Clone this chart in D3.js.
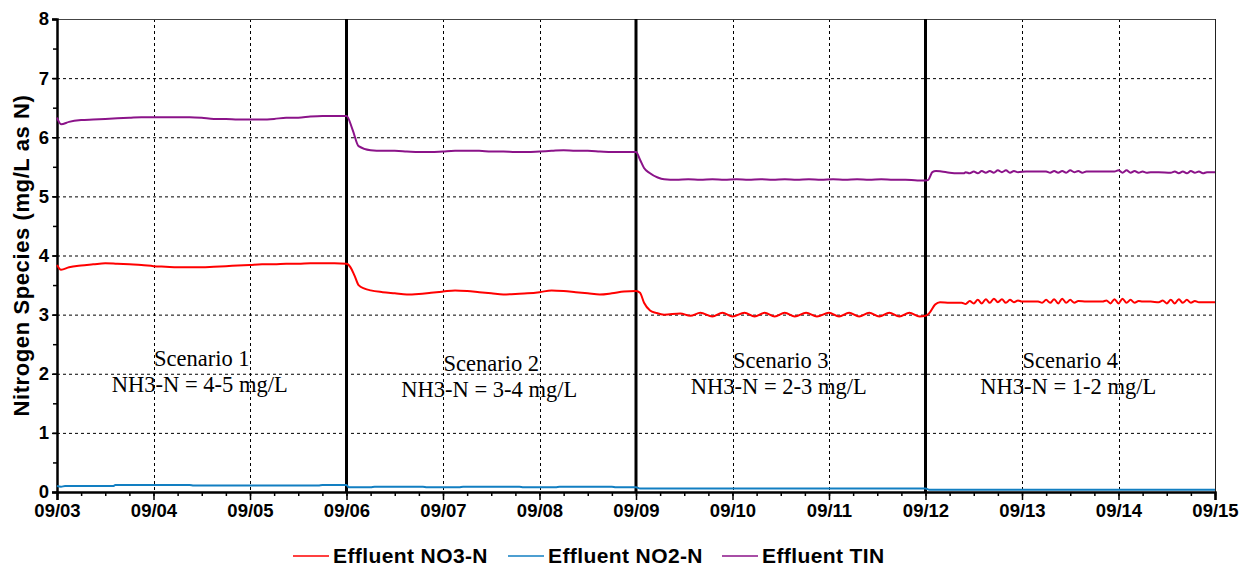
<!DOCTYPE html>
<html>
<head>
<meta charset="utf-8">
<script src="https://cdn.jsdelivr.net/npm/d3@7"></script>
<style>
  body { margin: 0; background: #fff; }
  .tick text { font-family: "Liberation Sans", Arial, sans-serif; font-weight: bold; fill: #000; }
  .scenario { font-family: "Liberation Serif", "Times New Roman", serif; font-size: 22.5px; fill: #000; }
  .legend text { font-family: "Liberation Sans", Arial, sans-serif; font-weight: bold; font-size: 21px; fill: #000; }
</style>
</head>
<body>
<div id="chart"></div>
<script>
// hours since 09/03 00:00
let no3Hours = [0, 1, 3, 6, 9, 12, 15, 18, 21, 24, 27, 30, 33, 36, 39, 42, 45, 48, 51, 54, 57, 60, 63, 66, 69, 72,
  73, 74, 75, 76.5, 78, 81, 84, 87, 90, 93, 96, 99, 102, 105, 108, 111, 114, 117, 120, 123, 126, 129, 132, 135, 138, 141, 144,
  145, 146, 147.5, 149, 151, 155, 157.5, 160, 163, 165.5, 168, 171, 173.5, 176, 178.5, 181, 183.5, 186.3, 189, 192, 194.5, 197, 199.5, 202, 204.5, 207, 209.5, 212, 214.5, 216,
  217, 218.4, 219.6, 222, 225, 226, 227, 228, 229, 230, 231, 232, 233, 234, 235, 236, 237, 238, 239, 240, 242, 244,
  245, 246, 247, 248, 249, 250, 251, 252, 253, 254, 256, 258, 260, 261, 262, 263, 264, 265, 266, 267, 268, 269, 270, 272, 274,
  275, 276, 277, 278, 279, 280, 281, 282, 283, 284, 286, 288];
let no3Values = [3.84, 3.76, 3.80, 3.83, 3.85, 3.87, 3.86, 3.85, 3.84, 3.82, 3.81, 3.80, 3.80, 3.80, 3.81, 3.82, 3.83, 3.84, 3.85, 3.85, 3.86, 3.86, 3.87, 3.87, 3.87, 3.86,
  3.80, 3.66, 3.50, 3.44, 3.41, 3.38, 3.36, 3.34, 3.35, 3.37, 3.39, 3.41, 3.40, 3.38, 3.36, 3.34, 3.35, 3.36, 3.38, 3.41, 3.40, 3.38, 3.36, 3.34, 3.36, 3.39, 3.40,
  3.37, 3.20, 3.07, 3.03, 3.00, 3.02, 2.98, 3.03, 2.97, 3.03, 2.97, 3.03, 2.97, 3.03, 2.97, 3.03, 2.97, 3.03, 2.97, 3.03, 2.97, 3.03, 2.97, 3.03, 2.97, 3.03, 2.97, 3.03, 2.97, 2.98,
  3.03, 3.17, 3.21, 3.20, 3.20, 3.18, 3.23, 3.19, 3.25, 3.19, 3.26, 3.20, 3.27, 3.21, 3.26, 3.20, 3.25, 3.21, 3.24, 3.22, 3.22, 3.22,
  3.20, 3.25, 3.20, 3.26, 3.19, 3.27, 3.20, 3.25, 3.20, 3.23, 3.22, 3.22, 3.22, 3.24, 3.19, 3.26, 3.19, 3.27, 3.20, 3.25, 3.20, 3.23, 3.22, 3.22, 3.21,
  3.24, 3.19, 3.25, 3.19, 3.26, 3.20, 3.25, 3.20, 3.23, 3.21, 3.21, 3.21];

let no2Hours = [0, 1, 2, 14, 14.5, 33, 34, 65, 66, 72, 72.5, 78, 79, 91, 92, 100, 101, 115, 116, 124, 125, 138, 139, 144,
  145, 160, 175, 190, 205, 216, 217, 288];
let no2Values = [0.10, 0.09, 0.10, 0.10, 0.12, 0.12, 0.11, 0.11, 0.12, 0.12, 0.08, 0.08, 0.09, 0.09, 0.08, 0.08, 0.09, 0.09, 0.08, 0.08, 0.09, 0.09, 0.08, 0.08,
  0.06, 0.06, 0.06, 0.06, 0.06, 0.06, 0.04, 0.04];

let tinHours = [0, 1, 3, 6, 9, 12, 15, 18, 21, 24, 27, 30, 33, 36, 39, 42, 45, 48, 51, 54, 57, 60, 63, 66, 69, 72,
  73.5, 75, 78, 81, 84, 87, 90, 93, 96, 99, 102, 105, 108, 111, 114, 117, 120, 123, 126, 129, 132, 135, 138, 141, 144,
  145, 146, 147.3, 149.4, 151, 154, 157, 160, 163, 166, 169, 172, 175, 178, 181, 184, 187, 190, 193, 196, 199, 202, 205, 208, 211, 214, 216,
  216.7, 217.7, 218.6, 220, 222, 224, 225.5, 226, 227, 228, 229, 230, 231, 232, 233, 234, 235, 236, 237, 238, 239, 241, 244, 246,
  247, 248, 249, 250, 251, 252, 253, 254, 255, 256, 258, 261, 263, 264, 265, 266, 267, 268, 269, 270, 271, 272, 274, 277,
  278, 279, 280, 281, 282, 283, 284, 285, 286, 288];
let tinValues = [6.33, 6.22, 6.26, 6.29, 6.30, 6.31, 6.32, 6.33, 6.34, 6.34, 6.34, 6.34, 6.34, 6.33, 6.31, 6.31, 6.30, 6.30, 6.30, 6.31, 6.33, 6.33, 6.35, 6.36, 6.36, 6.36,
  6.13, 5.85, 5.78, 5.77, 5.77, 5.76, 5.75, 5.75, 5.76, 5.77, 5.77, 5.77, 5.76, 5.76, 5.75, 5.75, 5.76, 5.77, 5.78, 5.77, 5.77, 5.76, 5.75, 5.75, 5.75,
  5.62, 5.48, 5.40, 5.32, 5.29, 5.28, 5.29, 5.28, 5.29, 5.28, 5.29, 5.28, 5.29, 5.28, 5.29, 5.28, 5.29, 5.28, 5.29, 5.28, 5.29, 5.28, 5.29, 5.28, 5.28, 5.27, 5.27,
  5.28, 5.41, 5.43, 5.42, 5.40, 5.39, 5.39, 5.41, 5.39, 5.42, 5.39, 5.43, 5.40, 5.43, 5.40, 5.44, 5.41, 5.44, 5.40, 5.43, 5.41, 5.42, 5.42, 5.42,
  5.40, 5.43, 5.40, 5.43, 5.40, 5.44, 5.41, 5.43, 5.40, 5.42, 5.42, 5.42, 5.42, 5.44, 5.40, 5.44, 5.40, 5.43, 5.40, 5.42, 5.40, 5.41, 5.41, 5.40,
  5.42, 5.39, 5.42, 5.39, 5.43, 5.40, 5.42, 5.39, 5.41, 5.41];

let scenarioBreaks = [72, 144, 216];
let scenarioNames = ["Scenario 1", "Scenario 2", "Scenario 3", "Scenario 4"];
let scenarioLevels = ["NH3-N = 4-5 mg/L", "NH3-N = 3-4 mg/L", "NH3-N = 2-3 mg/L", "NH3-N = 1-2 mg/L"];
let seriesNames = ["Effluent NO3-N", "Effluent NO2-N", "Effluent TIN"];
let seriesColors = ["#ff0000", "#127fc2", "#8b1389"];

let svgWidth = 1239;
let svgHeight = 567;

let margin = {
  top: 19,
  right: 24,
  bottom: 75,
  left: 57
};

let width = svgWidth - margin.left - margin.right;
let height = svgHeight - margin.top - margin.bottom;

let startDate = new Date(2019, 8, 3);
let toDate = h => new Date(startDate.getTime() + h * 3600 * 1000);

let svg = d3.select("#chart")
  .append("svg")
  .attr("width", svgWidth)
  .attr("height", svgHeight);

let chartGroup = svg.append("g")
  .attr("transform", `translate(${margin.left}, ${margin.top})`);

let xTimeScale = d3.scaleTime()
  .domain([startDate, toDate(288)])
  .range([0, width]);

let yLinearScale = d3.scaleLinear()
  .domain([0, 8])
  .range([height, 0]);

// gridlines
chartGroup.append("g")
  .selectAll("line")
  .data(d3.range(1, 8))
  .enter()
  .append("line")
  .attr("x1", 0)
  .attr("x2", width)
  .attr("y1", d => yLinearScale(d) + 0.5)
  .attr("y2", d => yLinearScale(d) + 0.5)
  .attr("stroke", "#000")
  .attr("stroke-width", 1)
  .attr("stroke-dasharray", "3,3");

chartGroup.append("g")
  .selectAll("line")
  .data(xTimeScale.ticks(d3.timeDay.every(1)).slice(1, -1))
  .enter()
  .append("line")
  .attr("x1", d => Math.round(xTimeScale(d)) + 0.5)
  .attr("x2", d => Math.round(xTimeScale(d)) + 0.5)
  .attr("y1", 0)
  .attr("y2", height)
  .attr("stroke", "#000")
  .attr("stroke-width", 1)
  .attr("stroke-dasharray", "3,3");

// top / right frame
chartGroup.append("line")
  .attr("x1", 0).attr("x2", width)
  .attr("y1", 0.5).attr("y2", 0.5)
  .attr("stroke", "#444");
chartGroup.append("line")
  .attr("x1", width + 0.5).attr("x2", width + 0.5)
  .attr("y1", 0).attr("y2", height)
  .attr("stroke", "#222");

// minor ticks
let bottomMinor = d3.axisBottom(xTimeScale)
  .ticks(d3.timeHour.every(6))
  .tickSize(4)
  .tickFormat("");
chartGroup.append("g")
  .attr("transform", `translate(0, ${height})`)
  .call(bottomMinor)
  .call(g => g.select(".domain").remove())
  .selectAll("line").attr("stroke-width", 1.5);

let leftMinor = d3.axisLeft(yLinearScale)
  .ticks(16)
  .tickSize(4)
  .tickFormat("");
chartGroup.append("g")
  .call(leftMinor)
  .call(g => g.select(".domain").remove())
  .selectAll("line").attr("stroke-width", 1.5);

// major axes
let bottomAxis = d3.axisBottom(xTimeScale)
  .ticks(d3.timeDay.every(1))
  .tickSize(8)
  .tickPadding(4)
  .tickFormat(d3.timeFormat("%m/%d"));
let xAxis = chartGroup.append("g")
  .attr("transform", `translate(0, ${height})`)
  .call(bottomAxis);
xAxis.select(".domain").attr("stroke-width", 2.5);
xAxis.selectAll(".tick line").attr("stroke-width", 1.5);
xAxis.selectAll(".tick text").attr("font-size", 18.5);

let leftAxis = d3.axisLeft(yLinearScale)
  .ticks(8)
  .tickSize(5)
  .tickPadding(3);
let yAxis = chartGroup.append("g")
  .call(leftAxis);
yAxis.select(".domain").attr("stroke-width", 2.5);
yAxis.selectAll(".tick line").attr("stroke-width", 1.5);
yAxis.selectAll(".tick text").attr("font-size", 18.5);

// scenario dividers
chartGroup.append("g")
  .selectAll("line")
  .data(scenarioBreaks)
  .enter()
  .append("line")
  .attr("x1", d => xTimeScale(toDate(d)))
  .attr("x2", d => xTimeScale(toDate(d)))
  .attr("y1", 0)
  .attr("y2", height)
  .attr("stroke", "#000")
  .attr("stroke-width", 3);

// scenario labels
let bounds = [0].concat(scenarioBreaks, [288]);
let labelBase = [347, 352, 349, 349];
scenarioNames.forEach(function(name, i) {
  let cx = (xTimeScale(toDate(bounds[i])) + xTimeScale(toDate(bounds[i + 1]))) / 2;
  chartGroup.append("text")
    .attr("class", "scenario")
    .attr("x", cx)
    .attr("y", labelBase[i])
    .attr("text-anchor", "middle")
    .text(name);
  chartGroup.append("text")
    .attr("class", "scenario")
    .attr("x", cx - 2)
    .attr("y", labelBase[i] + 26)
    .attr("text-anchor", "middle")
    .text(scenarioLevels[i]);
});

// series lines
let lineGen = d3.line()
  .x(d => xTimeScale(toDate(d[0])))
  .y(d => yLinearScale(d[1]))
  .curve(d3.curveMonotoneX);

let seriesData = [
  d3.zip(no3Hours, no3Values),
  d3.zip(no2Hours, no2Values),
  d3.zip(tinHours, tinValues)
];

seriesData.forEach(function(data, i) {
  chartGroup.append("path")
    .datum(data)
    .attr("fill", "none")
    .attr("stroke", seriesColors[i])
    .attr("stroke-width", 2)
    .attr("d", lineGen);
});

// y axis title
svg.append("text")
  .attr("transform", `translate(29, ${margin.top + height / 2}) rotate(-90)`)
  .attr("text-anchor", "middle")
  .attr("font-family", "Liberation Sans, Arial, sans-serif")
  .attr("font-weight", "bold")
  .attr("font-size", 22)
  .attr("letter-spacing", 0.6)
  .text("Nitrogen Species (mg/L as N)");

// legend
let legendX = [293, 508, 722];
let legend = svg.append("g").attr("class", "legend");
seriesNames.forEach(function(name, i) {
  legend.append("line")
    .attr("x1", legendX[i])
    .attr("x2", legendX[i] + 36)
    .attr("y1", 556)
    .attr("y2", 556)
    .attr("stroke", seriesColors[i])
    .attr("stroke-width", 1.5);
  legend.append("text")
    .attr("x", legendX[i] + 40)
    .attr("y", 563)
    .attr("letter-spacing", 0.4)
    .text(name);
});
</script>
</body>
</html>
